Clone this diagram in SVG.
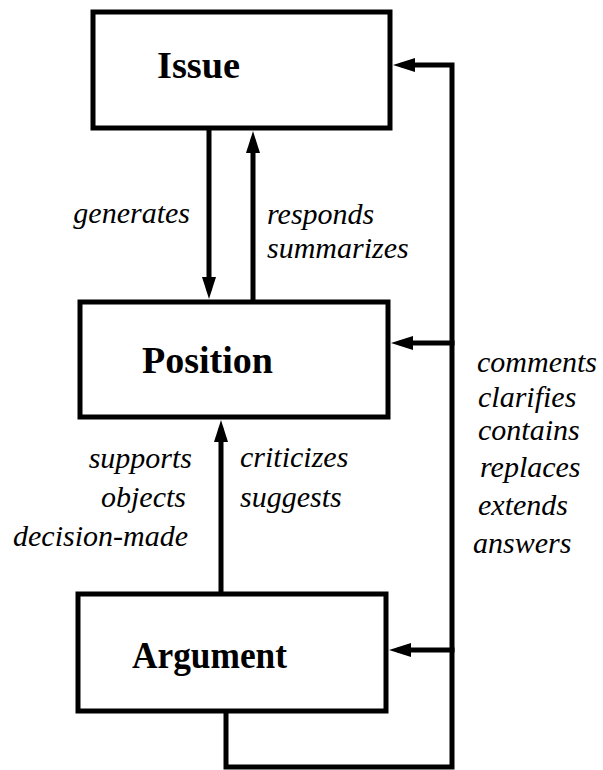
<svg xmlns="http://www.w3.org/2000/svg" width="603" height="770" viewBox="0 0 603 770">
  <style>
    .box { fill: #fff; stroke: #000; stroke-width: 5; }
    .title { font-family: "Liberation Serif", "Times New Roman", serif; font-weight: bold; font-size: 38px; fill: #000; }
    .rel { font-family: "Liberation Serif", "Times New Roman", serif; font-style: italic; font-size: 30px; fill: #000; }
    .wire { fill: none; stroke: #000; stroke-width: 5; stroke-linejoin: miter; stroke-linecap: square; }
  </style>
  <defs>
    <marker id="head" markerUnits="userSpaceOnUse" viewBox="0 0 22 14" markerWidth="22" markerHeight="14" refX="11" refY="7" orient="auto">
      <path d="M0,0 L22,7 L0,14 Z" fill="#000"/>
    </marker>
  </defs>
  <rect width="603" height="770" fill="#fff"/>

  <!-- nodes -->
  <g id="issue">
    <rect class="box" x="93" y="12" width="297" height="116"/>
    <text class="title" x="157" y="78" textLength="83" lengthAdjust="spacingAndGlyphs">Issue</text>
  </g>
  <g id="position">
    <rect class="box" x="80" y="302" width="308" height="115"/>
    <text class="title" x="142" y="373" textLength="131" lengthAdjust="spacingAndGlyphs">Position</text>
  </g>
  <g id="argument">
    <rect class="box" x="78" y="594" width="308" height="117"/>
    <text class="title" x="132" y="668" textLength="155" lengthAdjust="spacingAndGlyphs">Argument</text>
  </g>

  <!-- connectors -->
  <g id="connectors">
    <!-- Issue generates Position -->
    <path class="wire" d="M209,131 V288" marker-end="url(#head)"/>
    <!-- Position responds / summarizes Issue -->
    <path class="wire" d="M253,299 V142" marker-end="url(#head)"/>
    <!-- Argument to Position -->
    <path class="wire" d="M221,591 V431" marker-end="url(#head)"/>
    <!-- loop from Argument around the right side back to Issue -->
    <path class="wire" d="M226,714 V767 H452 V65 H404" marker-end="url(#head)"/>
    <path class="wire" d="M452,343 H402" marker-end="url(#head)"/>
    <path class="wire" d="M452,650 H400" marker-end="url(#head)"/>
  </g>

  <!-- relation labels -->
  <g id="labels">
    <text class="rel" x="190" y="223" text-anchor="end">generates</text>
    <text class="rel" x="267" y="224">responds</text>
    <text class="rel" x="267" y="258">summarizes</text>

    <text class="rel" x="192" y="468" text-anchor="end">supports</text>
    <text class="rel" x="186" y="507" text-anchor="end">objects</text>
    <text class="rel" x="188" y="546" text-anchor="end">decision-made</text>
    <text class="rel" x="240" y="467">criticizes</text>
    <text class="rel" x="240" y="507">suggests</text>

    <text class="rel" x="477" y="372">comments</text>
    <text class="rel" x="478" y="407">clarifies</text>
    <text class="rel" x="478" y="440">contains</text>
    <text class="rel" x="480" y="477">replaces</text>
    <text class="rel" x="478" y="515">extends</text>
    <text class="rel" x="473" y="553">answers</text>
  </g>
</svg>
